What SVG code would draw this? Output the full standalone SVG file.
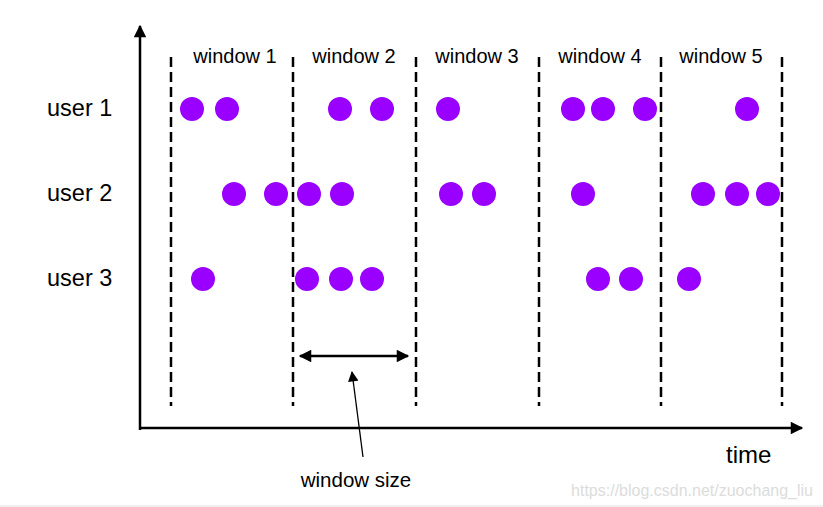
<svg xmlns="http://www.w3.org/2000/svg" width="823" height="507" viewBox="0 0 823 507">
<defs>
<style>
.dash{stroke:#000;stroke-width:2.5;stroke-dasharray:10,5;fill:none}
.dot{fill:#9900ff}
.lbl{font-family:"Liberation Sans",Arial,sans-serif;fill:#000}
.win{font-size:20px;text-anchor:middle}
.usr{font-size:23.5px}
.axis{stroke:#000;stroke-width:2.5;fill:none}
</style>
<marker id="ah" viewBox="0 0 10 10" refX="9" refY="5" markerWidth="6.5" markerHeight="5" markerUnits="strokeWidth" orient="auto-start-reverse"><path d="M0,0 L10,5 L0,10 Z" fill="#000"/></marker>
<marker id="ahs" viewBox="0 0 10 10" refX="9" refY="5" markerWidth="9" markerHeight="8" markerUnits="strokeWidth" orient="auto"><path d="M0,0 L10,5 L0,10 Z" fill="#000"/></marker>
</defs>
<rect width="823" height="507" fill="#fff"/>
<g id="connectors">
<line class="axis" x1="140" y1="430" x2="140" y2="26" marker-end="url(#ah)"/>
<line class="axis" x1="139" y1="428" x2="802" y2="428" marker-end="url(#ah)"/>
<line class="axis" x1="300" y1="356" x2="408" y2="356" marker-start="url(#ah)" marker-end="url(#ah)"/>
<line x1="363" y1="457" x2="352" y2="372" stroke="#000" stroke-width="1.3" marker-end="url(#ahs)"/>
</g>
<g id="window-lines">
<line class="dash" x1="171" y1="57" x2="171" y2="406"/>
<line class="dash" x1="293" y1="57" x2="293" y2="406"/>
<line class="dash" x1="416" y1="57" x2="416" y2="406"/>
<line class="dash" x1="539" y1="57" x2="539" y2="406"/>
<line class="dash" x1="661" y1="57" x2="661" y2="406"/>
<line class="dash" x1="782" y1="57" x2="782" y2="406"/>
</g>
<g id="window-labels" class="lbl win">
<text x="235" y="63">window 1</text>
<text x="354" y="63">window 2</text>
<text x="477" y="63">window 3</text>
<text x="600" y="63">window 4</text>
<text x="721" y="63">window 5</text>
</g>
<g id="user1">
<text class="lbl usr" x="47" y="116">user 1</text>
<circle class="dot" cx="192" cy="109" r="12"/>
<circle class="dot" cx="227" cy="109" r="12"/>
<circle class="dot" cx="340" cy="109" r="12"/>
<circle class="dot" cx="382" cy="109" r="12"/>
<circle class="dot" cx="448" cy="109" r="12"/>
<circle class="dot" cx="573" cy="109" r="12"/>
<circle class="dot" cx="603" cy="109" r="12"/>
<circle class="dot" cx="645" cy="109" r="12"/>
<circle class="dot" cx="747" cy="109" r="12"/>
</g>
<g id="user2">
<text class="lbl usr" x="47" y="201">user 2</text>
<circle class="dot" cx="234" cy="194" r="12"/>
<circle class="dot" cx="276" cy="194" r="12"/>
<circle class="dot" cx="309" cy="194" r="12"/>
<circle class="dot" cx="342" cy="194" r="12"/>
<circle class="dot" cx="451" cy="194" r="12"/>
<circle class="dot" cx="484" cy="194" r="12"/>
<circle class="dot" cx="583" cy="194" r="12"/>
<circle class="dot" cx="703" cy="194" r="12"/>
<circle class="dot" cx="737" cy="194" r="12"/>
<circle class="dot" cx="768" cy="194" r="12"/>
</g>
<g id="user3">
<text class="lbl usr" x="47" y="286">user 3</text>
<circle class="dot" cx="203" cy="279" r="12"/>
<circle class="dot" cx="307" cy="279" r="12"/>
<circle class="dot" cx="341" cy="279" r="12"/>
<circle class="dot" cx="372" cy="279" r="12"/>
<circle class="dot" cx="598" cy="279" r="12"/>
<circle class="dot" cx="631" cy="279" r="12"/>
<circle class="dot" cx="689" cy="279" r="12"/>
</g>
<g id="time-label"><text class="lbl" x="726" y="463" font-size="24">time</text></g>
<g id="window-size-label"><text class="lbl" x="356" y="487" font-size="20.5" text-anchor="middle">window size</text></g>
<text x="813" y="496" font-family="'Liberation Sans',Arial,sans-serif" font-size="16" fill="#dcdcdc" text-anchor="end">https://blog.csdn.net/zuochang_liu</text>
<line x1="0" y1="506" x2="823" y2="506" stroke="#e0e0e0" stroke-width="1"/>
</svg>
